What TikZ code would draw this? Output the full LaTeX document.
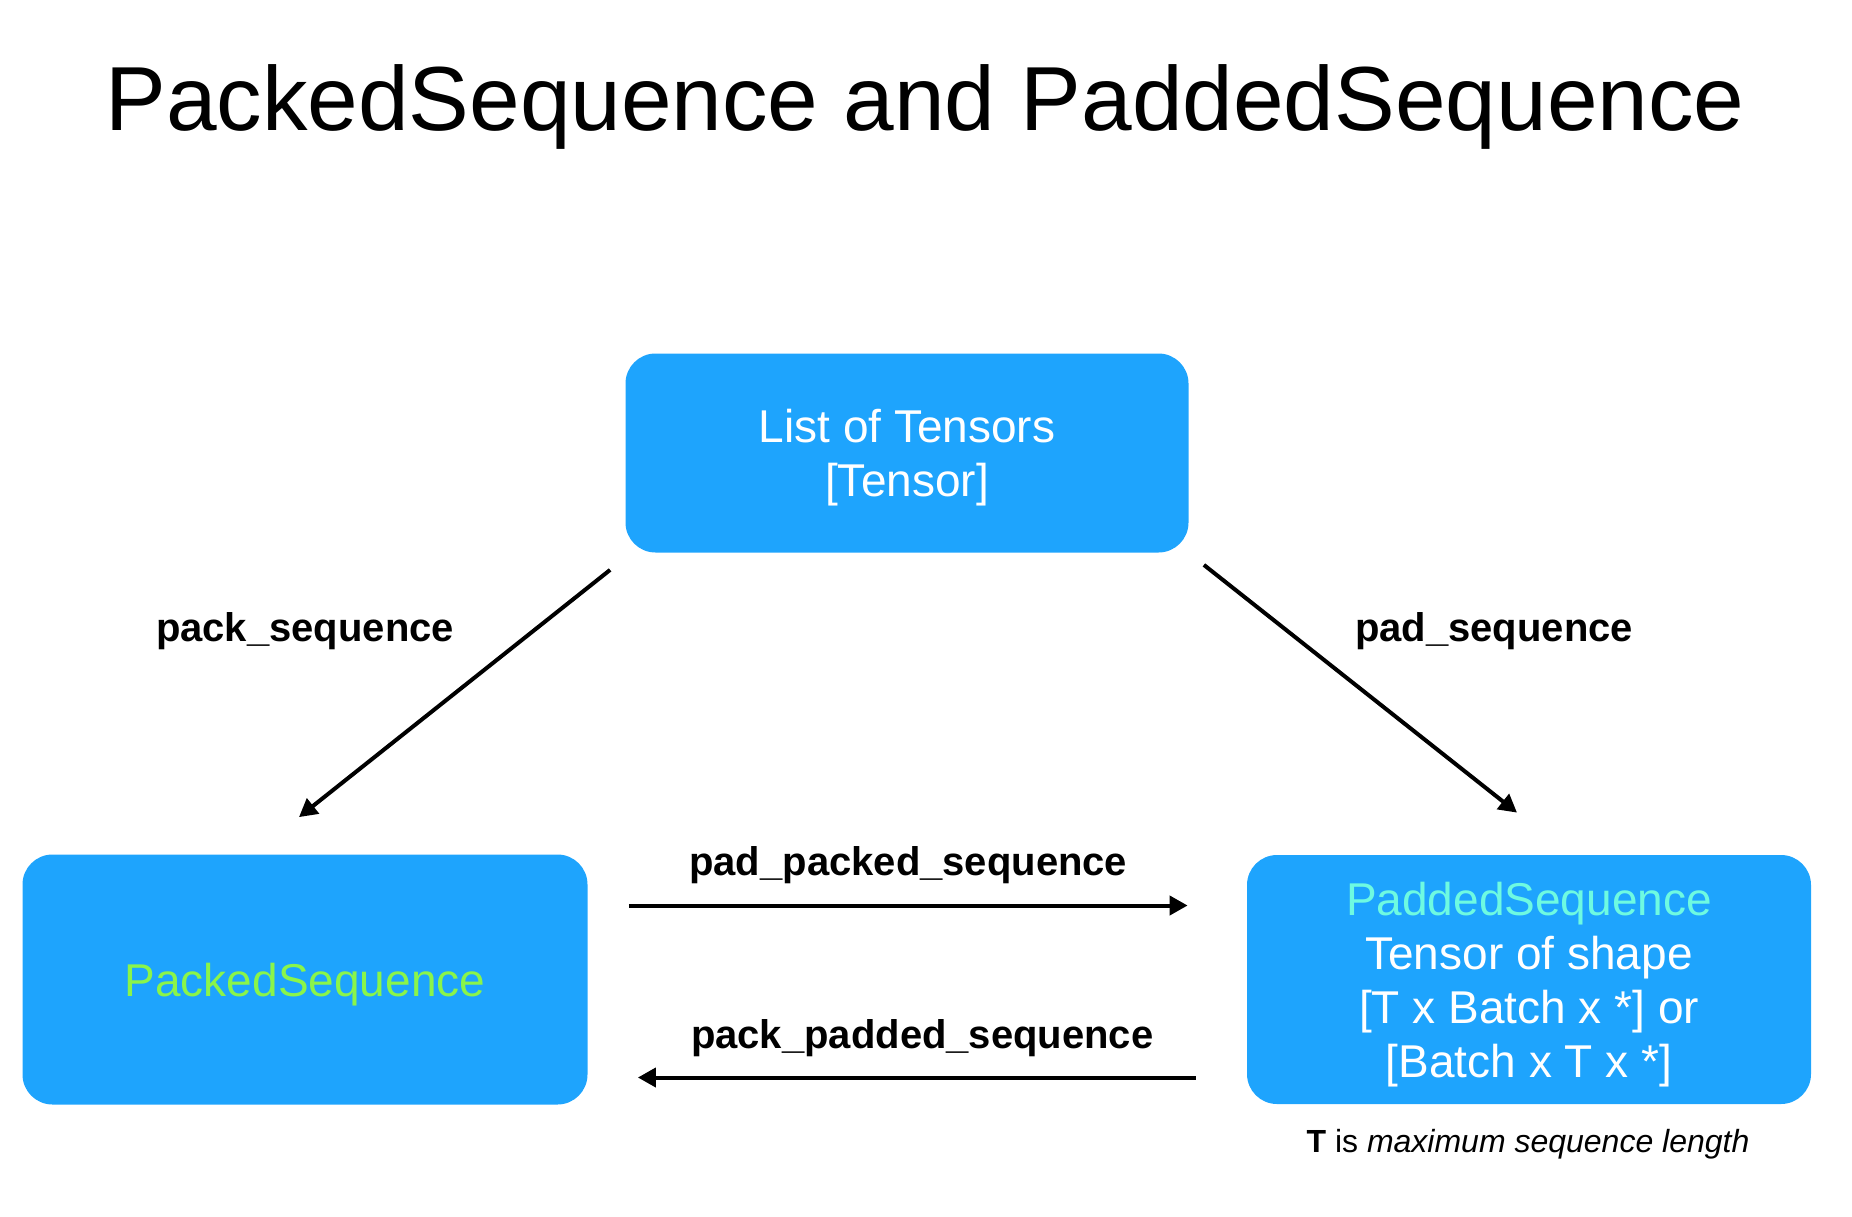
\documentclass[tikz,border=0pt]{standalone}
\usepackage{fontspec}
\setmainfont{Liberation Sans}
\usetikzlibrary{arrows.meta}
\definecolor{boxblue}{RGB}{30,164,253}
\definecolor{packgreen}{RGB}{138,245,74}
\definecolor{padcyan}{RGB}{110,250,225}

\begin{document}
\begin{tikzpicture}[x=0.5pt,y=-0.5pt]
\tikzset{BoxStyle/.style ={fill=boxblue,rounded corners=15pt,text=white,align=center,
  inner sep=0pt,font=\fontsize{23}{27}\selectfont,text depth=-0.5pt}}
\tikzset{EdgeStyle/.style ={-{Triangle[length=9pt,width=9.5pt]},line width=2pt}}
\tikzset{LabelStyle/.style ={font=\bfseries\fontsize{20}{24}\selectfont,anchor=base}}
\useasboundingbox (0,0) rectangle (1852,1216);
\node[anchor=base,font=\fontsize{45.5}{54}\selectfont] (title) at (925,130)
  {PackedSequence and PaddedSequence};
\node[BoxStyle,minimum width=281.5pt,minimum height=99.5pt] (list) at (907,453)
  {List of Tensors\\{[Tensor]}};
\node[BoxStyle,minimum width=282.5pt,minimum height=125pt] (packed) at (305,979.5)
  {\textcolor{packgreen}{PackedSequence}};
\node[BoxStyle,minimum width=282pt,minimum height=124.5pt] (padded) at (1529,979.5)
  {\textcolor{padcyan}{PaddedSequence}\\Tensor of shape\\{[T x Batch x *] or}\\{[Batch x T x *]}};
\node[LabelStyle] (packlbl) at (305,641) {pack\_sequence};
\node[LabelStyle] (padlbl) at (1494,641) {pad\_sequence};
\draw[EdgeStyle] ([shift={(-7.5pt,-8.5pt)}]list.south west) -- ([shift={(-3pt,18.5pt)}]packed.north);
\draw[EdgeStyle] ([shift={(7.5pt,-6pt)}]list.south east) -- ([shift={(-6pt,21pt)}]padded.north);
\draw[EdgeStyle] ([shift={(20.5pt,37pt)}]packed.east) -- ([shift={(-29.5pt,37pt)}]padded.west)
  node[LabelStyle,midway,yshift=15pt] {pad\_packed\_sequence};
\draw[EdgeStyle] ([shift={(-25.5pt,-49pt)}]padded.west) -- ([shift={(25pt,-49pt)}]packed.east)
  node[LabelStyle,midway,yshift=14.5pt,xshift=2.75pt] {pack\_padded\_sequence};
\node[anchor=base,font=\fontsize{16}{19}\selectfont] (note) at (1528,1152)
  {\textbf{T} is \textit{maximum sequence length}};
\end{tikzpicture}
\end{document}
